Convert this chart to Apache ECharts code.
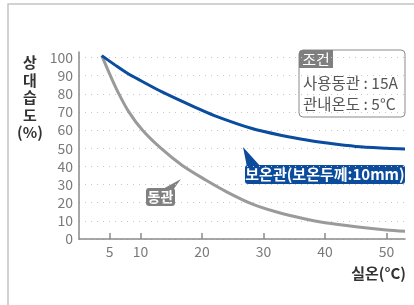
<!DOCTYPE html>
<html>
<head>
<meta charset="utf-8">
<script src="https://cdn.jsdelivr.net/npm/echarts@6/dist/echarts.min.js"></script>
<style>
  html, body { margin: 0; padding: 0; background: #fff; }
</style>
</head>
<body>
<div id="chart" style="width: 414px; height: 305px;"></div>
<script>
// 동관 (bare copper pipe)
const copperX = [3.7, 5.1, 6.4, 8.1, 10.3, 13.3, 16.8, 20.6, 24, 28, 32, 36.8, 40, 45, 50, 53];
const copperY = [101, 90, 80.5, 70, 60, 50, 40.5, 32.5, 26, 19.5, 15, 11, 9, 6.8, 5, 4.3];
// 보온관 (insulated, 10mm)
const insulX = [3.7, 6, 8, 10, 13.5, 18.9, 22, 28, 33, 37, 40, 45, 50, 53];
const insulY = [101, 95.5, 91, 87.3, 81, 72.5, 68, 61, 57, 54.5, 53, 51, 50, 49.6];

const xTicks = [5, 10, 20, 30, 40, 50];
const yTicks = [0, 10, 20, 30, 40, 50, 60, 70, 80, 90, 100];

const font = '"Noto Sans CJK KR", "Noto Sans", sans-serif';

const toPairs = (xs, ys) => xs.map((x, i) => [x, ys[i]]);

const option = {
  animation: false,
  grid: { left: 79, right: 9, top: 52, bottom: 66 },
  xAxis: {
    type: 'value',
    min: 0,
    max: 53,
    axisLine: { lineStyle: { color: '#8a8a8a', width: 1.5 } },
    axisTick: {
      customValues: xTicks,
      inside: true,
      length: 6,
      lineStyle: { color: '#8a8a8a', width: 1.5 },
    },
    axisLabel: {
      customValues: xTicks,
      color: '#7a7a7a',
      fontSize: 14,
      fontFamily: font,
      margin: 6,
    },
    splitLine: { show: false },
  },
  yAxis: {
    type: 'value',
    min: 0,
    max: 103,
    axisLine: { show: true, lineStyle: { color: '#8a8a8a', width: 1.5 } },
    axisTick: { show: false, customValues: yTicks },
    axisLabel: {
      customValues: yTicks,
      color: '#7a7a7a',
      fontSize: 14,
      fontFamily: font,
      margin: 6,
    },
    splitLine: {
      show: true,
      lineStyle: { color: '#c8c8c8', type: [1, 5], width: 1 },
    },
  },
  series: [
    {
      name: '동관',
      type: 'line',
      smooth: 0.3,
      symbol: 'none',
      data: toPairs(copperX, copperY),
      lineStyle: { color: '#9a9a9a', width: 3 },
    },
    {
      name: '보온관',
      type: 'line',
      smooth: 0.3,
      symbol: 'none',
      data: toPairs(insulX, insulY),
      lineStyle: { color: '#0a4c9e', width: 3 },
    },
  ],
  graphic: [
    // frame
    {
      type: 'polyline',
      shape: { points: [[8, 305], [8, 4], [414, 4]] },
      style: { stroke: '#c4c4c4', lineWidth: 1.5, fill: null },
    },
    // y axis name
    {
      type: 'text',
      x: 30,
      y: 54,
      style: {
        text: '상\n대\n습\n도\n(%)',
        font: 'bold 15px ' + font,
        fill: '#333',
        align: 'center',
        lineHeight: 17.5,
      },
    },
    // x axis name
    {
      type: 'text',
      x: 406,
      y: 273,
      style: {
        text: '실온(°C)',
        font: 'bold 15px ' + font,
        fill: '#333',
        align: 'right',
        verticalAlign: 'middle',
      },
    },
    // 조건 box
    {
      type: 'rect',
      shape: { x: 299, y: 50, width: 106, height: 67, r: 4 },
      style: { fill: '#fff', stroke: '#8a8a8a', lineWidth: 1 },
    },
    {
      type: 'rect',
      shape: { x: 299, y: 50, width: 34, height: 18, r: [4, 0, 0, 0] },
      style: { fill: '#7f7f7f' },
    },
    {
      type: 'text',
      x: 316,
      y: 59.5,
      style: {
        text: '조건',
        font: '15px ' + font,
        fill: '#fff',
        align: 'center',
        verticalAlign: 'middle',
      },
    },
    {
      type: 'text',
      x: 303,
      y: 83,
      style: {
        text: '사용동관 : 15A',
        font: '15.5px ' + font,
        fill: '#555',
        verticalAlign: 'middle',
      },
    },
    {
      type: 'text',
      x: 303,
      y: 104,
      style: {
        text: '관내온도 : 5°C',
        font: '15.5px ' + font,
        fill: '#555',
        verticalAlign: 'middle',
      },
    },
    // 보온관 label
    {
      type: 'polygon',
      shape: { points: [[243, 147], [247, 167], [261, 167]] },
      style: { fill: '#0b4c9c' },
    },
    {
      type: 'rect',
      shape: { x: 245, y: 165, width: 160, height: 19, r: 3 },
      style: { fill: '#0b4c9c' },
    },
    {
      type: 'text',
      x: 325,
      y: 174.5,
      style: {
        text: '보온관(보온두께:10mm)',
        font: 'bold 15px ' + font,
        fill: '#fff',
        align: 'center',
        verticalAlign: 'middle',
      },
    },
    // 동관 label
    {
      type: 'polygon',
      shape: { points: [[181, 179], [161, 190], [173, 190]] },
      style: { fill: '#808080' },
    },
    {
      type: 'rect',
      shape: { x: 146, y: 188, width: 29, height: 18, r: 3 },
      style: { fill: '#808080' },
    },
    {
      type: 'text',
      x: 160.5,
      y: 197,
      style: {
        text: '동관',
        font: 'bold 14px ' + font,
        fill: '#fff',
        align: 'center',
        verticalAlign: 'middle',
      },
    },
  ],
};

const mychart = echarts.init(document.getElementById('chart'));
option && mychart.setOption(option);
window.addEventListener('resize', () => {
  mychart?.resize();
});
</script>
</body>
</html>
